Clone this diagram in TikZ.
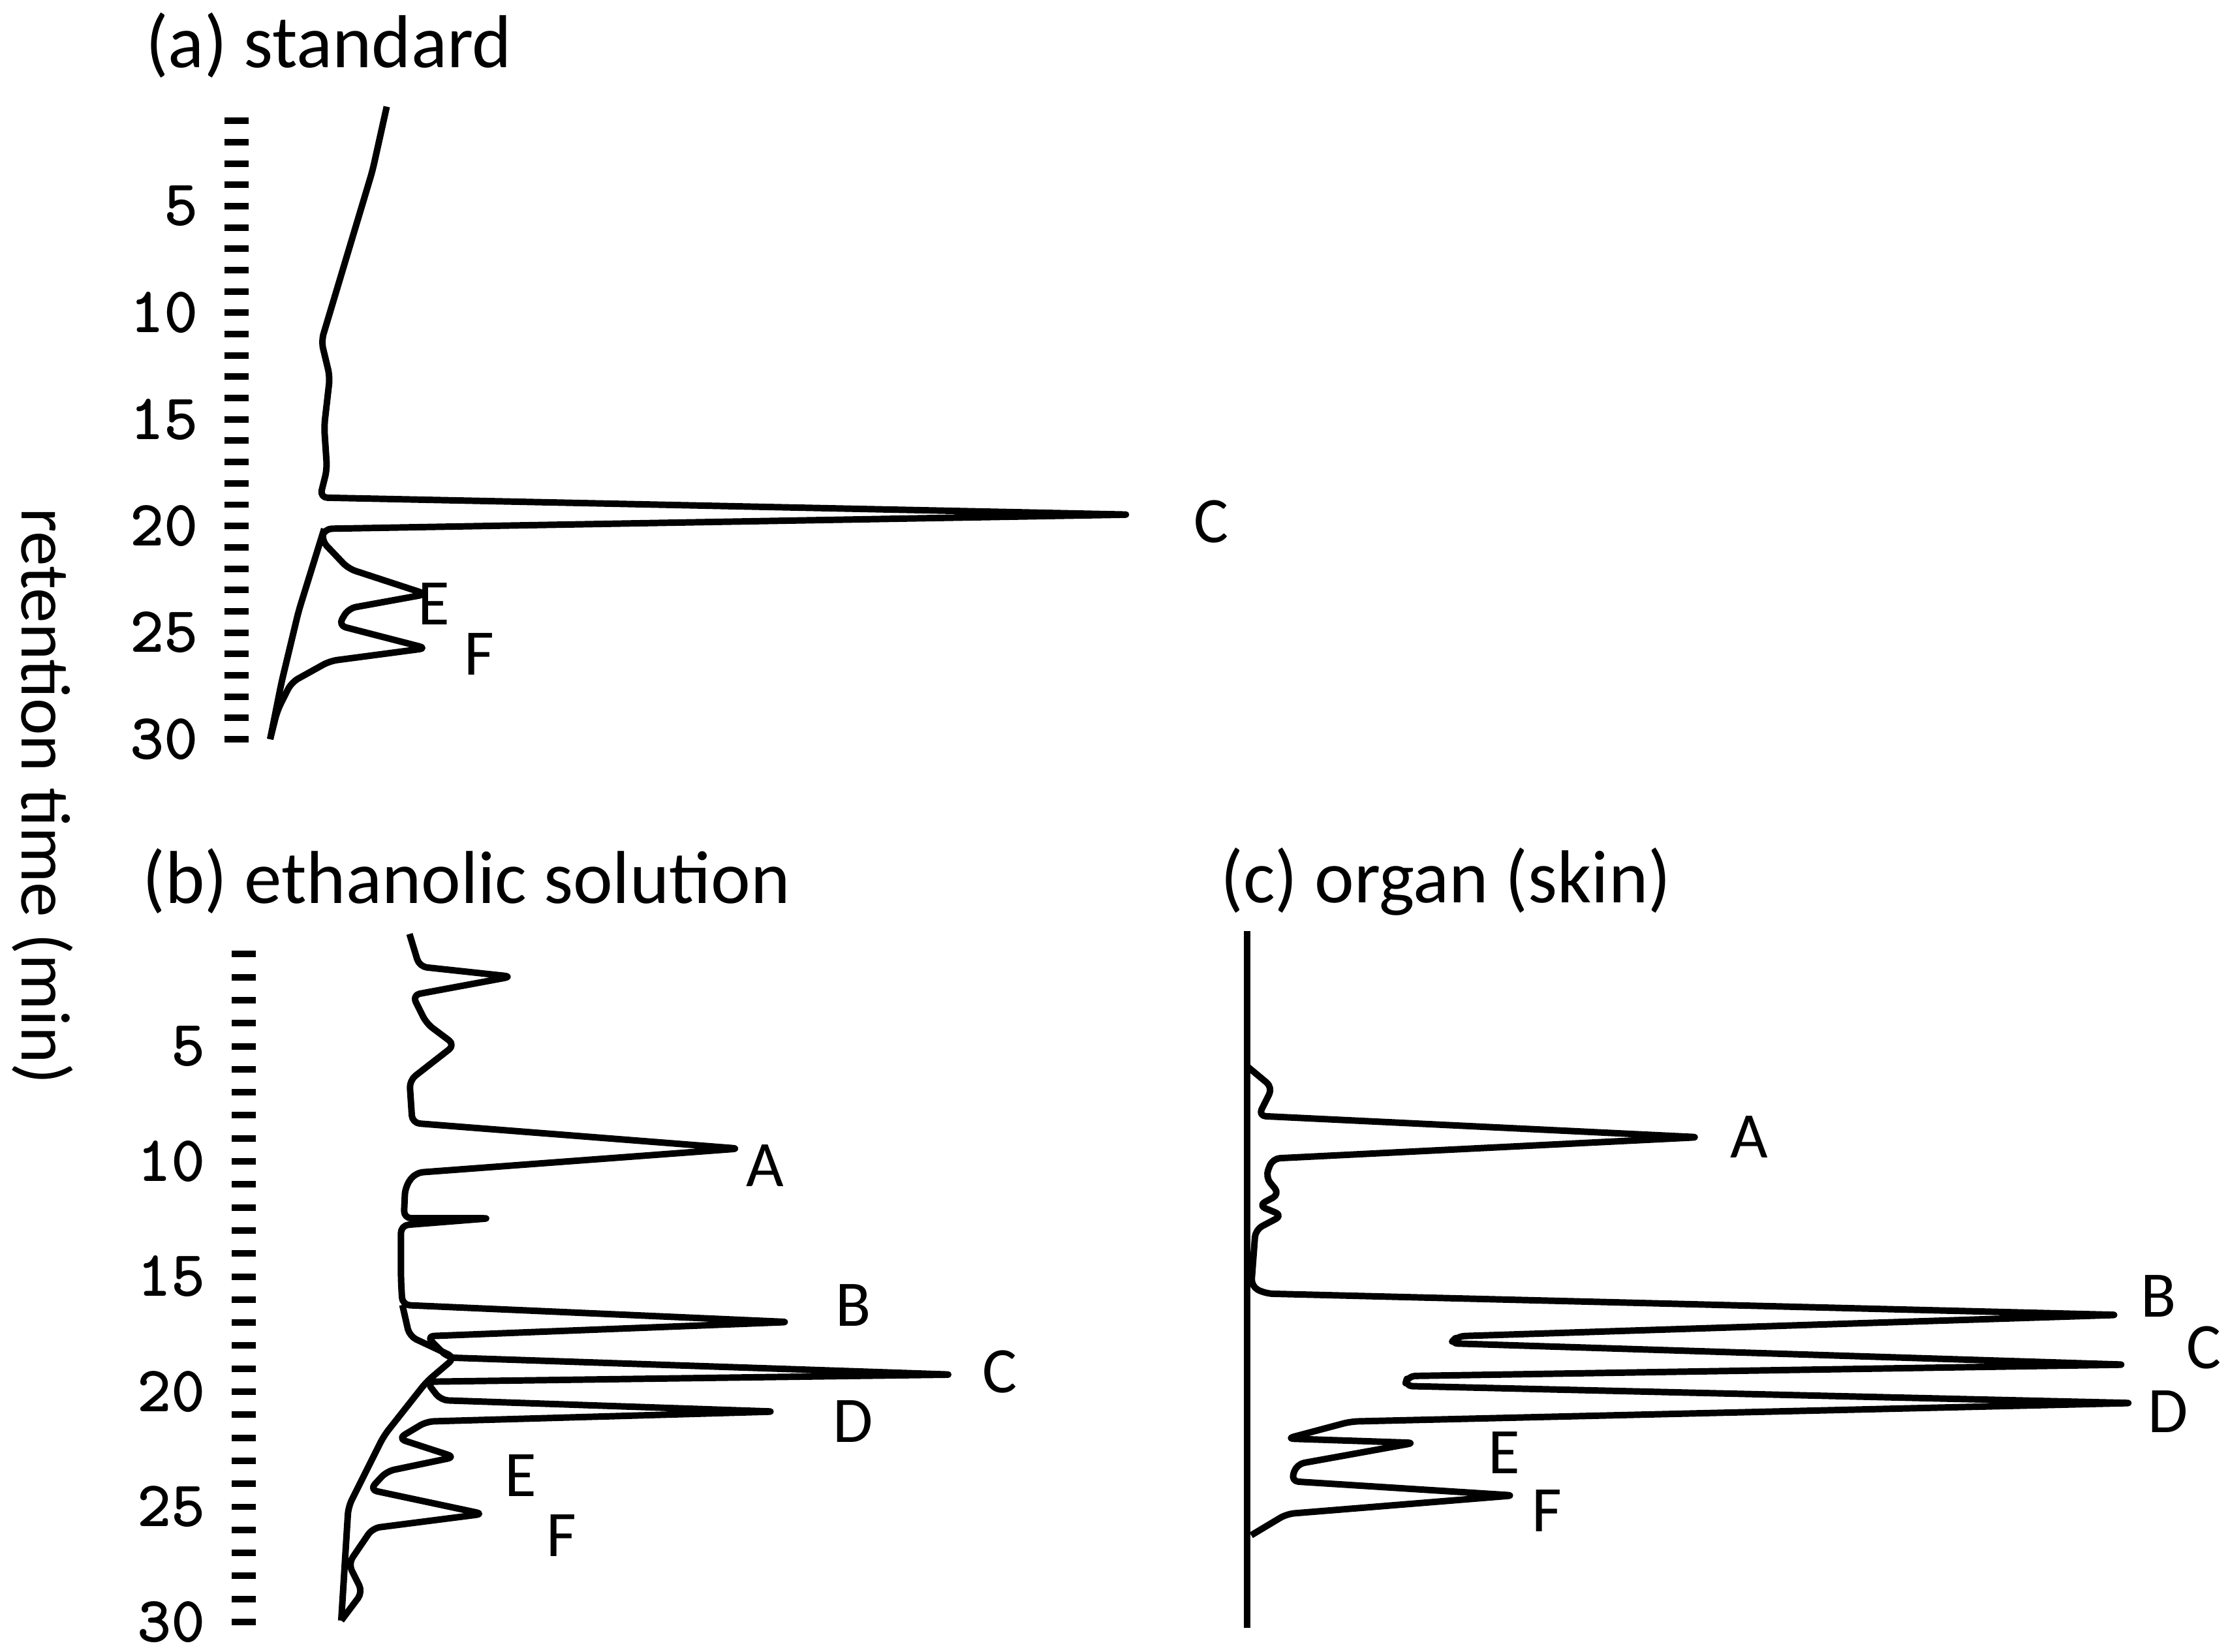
\documentclass[tikz,border=0pt]{standalone}
\usepackage{fontspec}
\setmainfont{Carlito}
\begin{document}
\begin{tikzpicture}[x=0.01cm,y=-0.01cm,
    traza/.style={line width=1.3pt, line join=round, rounded corners=1.5pt},
    marca/.style={line width=1.3pt},
    numero/.style={anchor=east, font=\ttfamily\bfseries\fontsize{13}{13}\selectfont},
    pico/.style={font=\fontsize{13}{13}\selectfont},
    titulo/.style={anchor=west, font=\fontsize{15}{15}\selectfont}]
        \useasboundingbox (0,0) rectangle (1567,1162);

        % titulos
        \node[titulo] (ta) at (90,32) {(a) standard};
        \node[titulo] (tb) at (88,620) {(b) ethanolic solution};
        \node[titulo] (tc) at (846,620) {(c) organ (skin)};
        \node[rotate=-90, font=\fontsize{14}{14}\selectfont] (eje) at (30,560) {retention time (min)};

        % escala (a)
        \foreach \m in {1,...,30}
          \draw[marca] (158,{70+15*\m}) -- (175,{70+15*\m});
        \foreach \m in {5,10,...,30}
          \node[numero] at (152,{70+15*\m}) {\m};

        % escala (b)
        \foreach \m in {1,...,30}
          \draw[marca] (163,{655+16.2*\m}) -- (180,{655+16.2*\m});
        \foreach \m in {5,10,...,30}
          \node[numero] at (157,{655+16.2*\m}) {\m};

        % cromatograma (a)
        \draw[traza] (272,75) -- (262,120) -- (250,160) -- (238,200) -- (226,240) -- (232,265)
          -- (228,300) -- (230,330) -- (225,350) -- (795,362) -- (228,372) -- (226,380)
          -- (245,400) -- (300,418) -- (245,428) -- (238,440) -- (300,456) -- (232,465)
          -- (205,480) -- (195,500) -- (190,520);
        \draw[traza] (228,372) -- (210,430) -- (198,480) -- (190,520);

        % cromatograma (b)
        \draw[traza] (288,657) -- (295,680) -- (360,687) -- (290,700) -- (300,720) -- (320,735)
          -- (288,760) -- (290,790) -- (520,808) -- (292,825) -- (285,835) -- (284,857)
          -- (345,857) -- (282,862) -- (282,900) -- (283,918) -- (555,930) -- (300,940)
          -- (315,955) -- (670,967) -- (300,972) -- (310,985) -- (545,993) -- (300,1000)
          -- (280,1012) -- (320,1025) -- (272,1035) -- (260,1048) -- (340,1065)
          -- (262,1075) -- (245,1100) -- (255,1120) -- (240,1140);
        \draw[traza] (283,918) -- (288,940) -- (320,955) -- (300,972) -- (270,1010)
          -- (245,1060) -- (240,1140);

        % cromatograma (c)
        \draw[traza] (877,655) -- (877,1145);
        \draw[traza] (877,750) -- (895,765) -- (885,785) -- (1195,800) -- (895,815)
          -- (890,828) -- (900,840) -- (885,848) -- (902,855) -- (883,865) -- (880,905)
          -- (890,910) -- (1490,925) -- (1025,940) -- (1020,945) -- (1495,960)
          -- (990,968) -- (988,975) -- (1500,987) -- (950,1000) -- (905,1012)
          -- (995,1015) -- (912,1030) -- (908,1042) -- (1065,1052) -- (905,1065)
          -- (880,1080);

        % etiquetas de picos
        \node[pico] (aC) at (852,367) {C};
        \node[pico] (aE) at (305,425) {E};
        \node[pico] (aF) at (337,460) {F};
        \node[pico] (bA) at (538,820) {A};
        \node[pico] (bB) at (600,918) {B};
        \node[pico] (bC) at (703,965) {C};
        \node[pico] (bD) at (600,1000) {D};
        \node[pico] (bE) at (366,1038) {E};
        \node[pico] (bF) at (395,1080) {F};
        \node[pico] (cA) at (1230,800) {A};
        \node[pico] (cB) at (1518,912) {B};
        \node[pico] (cC) at (1550,948) {C};
        \node[pico] (cD) at (1525,993) {D};
        \node[pico] (cE) at (1058,1022) {E};
        \node[pico] (cF) at (1088,1063) {F};
\end{tikzpicture}
\end{document}
